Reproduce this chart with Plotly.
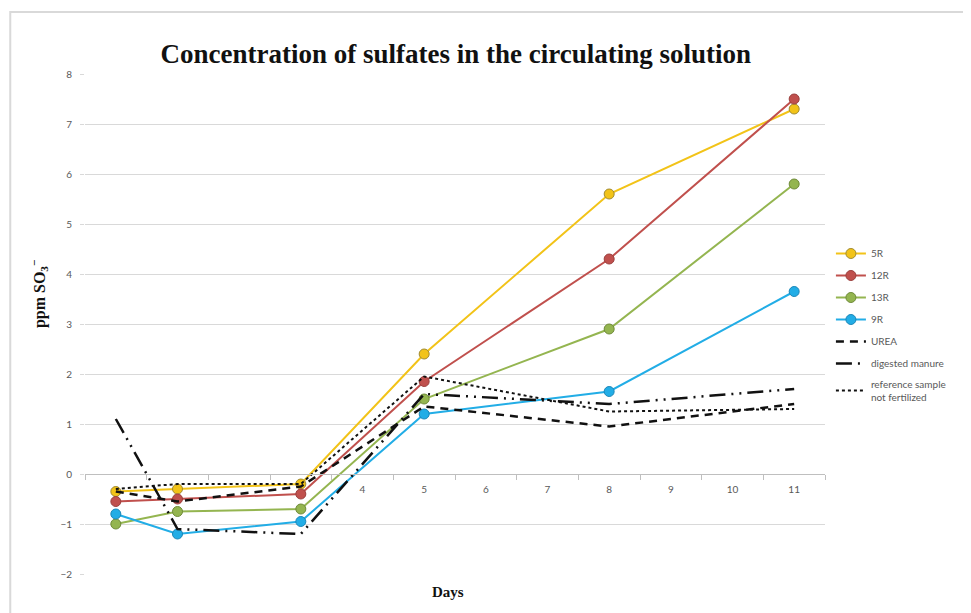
import plotly.graph_objects as go

days = [0, 1, 3, 5, 8, 11]
series_names = ["5R", "12R", "13R", "9R"]
s5R = [-0.35, -0.3, -0.2, 2.4, 5.6, 7.3]
s12R = [-0.55, -0.5, -0.4, 1.85, 4.3, 7.5]
s13R = [-1.0, -0.75, -0.7, 1.5, 2.9, 5.8]
s9R = [-0.8, -1.2, -0.95, 1.2, 1.65, 3.65]
urea = [-0.35, -0.55, -0.25, 1.35, 0.95, 1.4]
manure = [1.1, -1.1, -1.2, 1.6, 1.4, 1.7]
reference = [-0.3, -0.2, -0.2, 1.95, 1.25, 1.3]
x_tick_vals = [4, 5, 6, 7, 8, 9, 10, 11]
y_tick_vals = [-2, -1, 0, 1, 2, 3, 4, 5, 6, 7, 8]

colors = ["#F2C318", "#C0504D", "#94B550", "#22ADE6"]
edges = ["#A08A30", "#9A3E3C", "#6E8A38", "#1A86B8"]

fig = go.Figure()
for name, vals, c, e in zip(series_names, [s5R, s12R, s13R, s9R], colors, edges):
    fig.add_trace(go.Scatter(
        x=days, y=vals, name=name, legendgroup=name, mode="lines+markers",
        line=dict(color=c, width=2),
        marker=dict(size=10, color=c, line=dict(color=e, width=1)),
    ))

fig.add_trace(go.Scatter(x=days, y=urea, name="UREA", legendgroup="urea", mode="lines",
                         line=dict(color="#111111", width=2.5, dash="8px,6px")))
fig.add_trace(go.Scatter(x=days, y=manure, name="digested manure", legendgroup="manure", mode="lines",
                         line=dict(color="#111111", width=2.5, dash="16px,6px,2px,6px,2px,6px")))
fig.add_trace(go.Scatter(x=days, y=reference, name="reference sample<br>not fertilized",
                         legendgroup="ref", mode="lines",
                         line=dict(color="#111111", width=2, dash="dot")))

fig.update_layout(
    width=963, height=605,
    margin=dict(l=77, r=146, t=66, b=39),
    paper_bgcolor="white", plot_bgcolor="white",
    title=dict(text="<b>Concentration of sulfates in the circulating solution</b>",
               x=0.465, xanchor="center", y=0.925, yanchor="middle",
               font=dict(family="Liberation Serif", size=27, color="#111111")),
    showlegend=True,
    legend=dict(x=1.008, y=0.67, xanchor="left", yanchor="top",
                font=dict(family="Lato", size=10, color="#595959"),
                bgcolor="rgba(0,0,0,0)", itemwidth=30, tracegroupgap=3),
    font=dict(family="Lato", color="#595959"),
)

fig.update_xaxes(
    range=[-0.5, 11.5],
    tickmode="array", tickvals=x_tick_vals, ticktext=[str(v) for v in x_tick_vals],
    ticks="outside", ticklen=0, tickcolor="rgba(0,0,0,0)", ticklabelstandoff=6,
    minor=dict(ticks="outside", ticklen=5, tick0=0.5, dtick=1, tickcolor="#BFBFBF", showgrid=False),
    showgrid=False, zeroline=False,
    showline=True, linecolor="#BFBFBF", linewidth=1,
    anchor="free", position=0.2,
    tickfont=dict(family="Lato", size=10, color="#595959"),
)
fig.update_yaxes(
    range=[-2, 8],
    tickmode="array", tickvals=y_tick_vals,
    showgrid=True, gridcolor="#D9D9D9", gridwidth=1,
    zeroline=False, showline=False,
    ticks="outside", ticklen=4, tickcolor="#D9D9D9", ticklabelstandoff=6,
    tickfont=dict(family="Lato", size=10, color="#595959"),
)

fig.add_annotation(text="<b>ppm SO<sub>3</sub><sup>−</sup></b>", xref="paper", yref="paper",
                   x=-0.062, y=0.56, textangle=-90, showarrow=False,
                   xanchor="center", yanchor="middle",
                   font=dict(family="Liberation Serif", size=16, color="#111111"))
fig.add_annotation(text="<b>Days</b>", xref="paper", yref="paper",
                   x=0.49, y=-0.035, showarrow=False, xanchor="center", yanchor="middle",
                   font=dict(family="Liberation Serif", size=15, color="#111111"))

fig.add_shape(type="rect", xref="paper", yref="paper",
              x0=-0.101, x1=1.3, y0=-0.2, y1=1.124,
              line=dict(color="#D9D9D9", width=2), fillcolor="rgba(0,0,0,0)", layer="below")

fig.write_html("out.html")
